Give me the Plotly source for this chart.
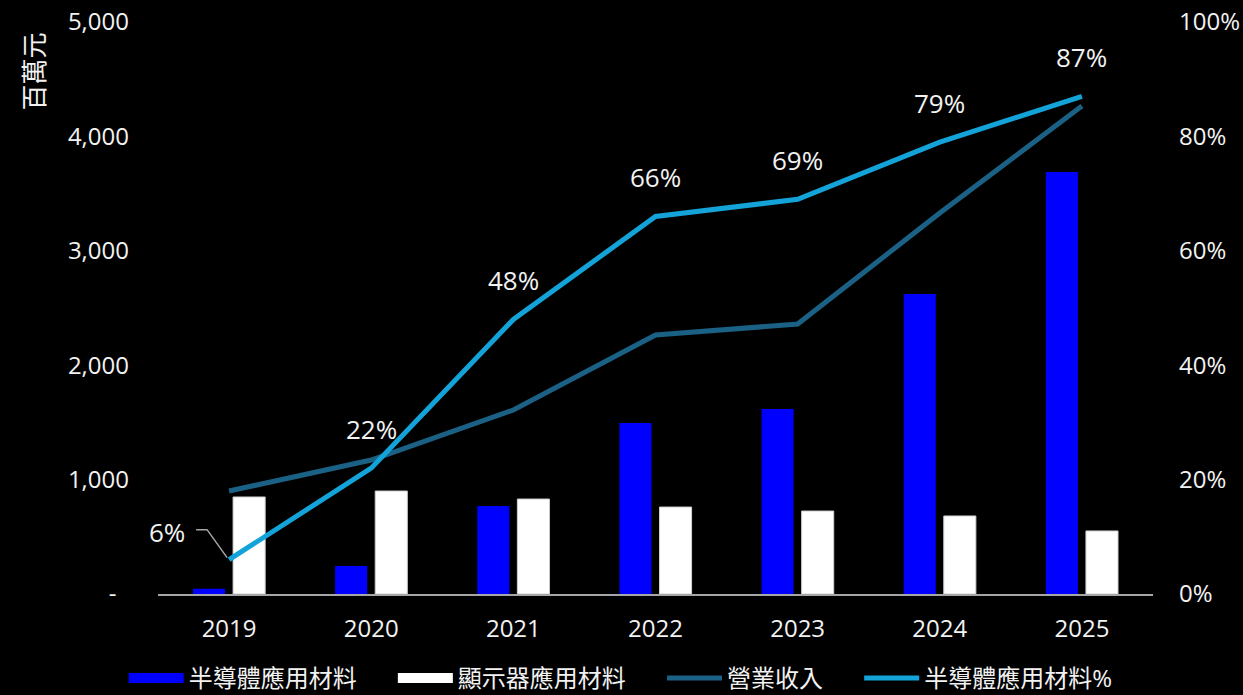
import plotly.graph_objects as go

years = ["2019", "2020", "2021", "2022", "2023", "2024", "2025"]
semi_materials = [45, 245, 770, 1495, 1617, 2622, 3689]
display_materials = [848, 900, 830, 760, 725, 682, 551]
revenue = [900, 1171, 1608, 2264, 2360, 3330, 4265]
semi_pct = [6, 22, 48, 66, 69, 79, 87]
pct_labels = [f"{v}%" for v in semi_pct]

left_ticks = [0, 1000, 2000, 3000, 4000, 5000]
left_ticktext = ["-\u00a0\u00a0", "1,000", "2,000", "3,000", "4,000", "5,000"]
right_ticks = [0, 20, 40, 60, 80, 100]
right_ticktext = ["0%", "20%", "40%", "60%", "80%", "100%"]

FONT = "Open Sans, Noto Sans CJK TC, sans-serif"
TXT = "#f2f2f2"
BLUE = "#0000FF"
WHITE = "#FFFFFF"
DARK = "#1B6185"
LIGHT = "#13A3D8"
PAD = "\u00a0" * 5

fig = go.Figure()
fig.add_trace(go.Bar(x=years, y=semi_materials, name="半導體應用材料",
                     legendgroup="semi", showlegend=False,
                     marker=dict(color=BLUE, line=dict(width=0))))
fig.add_trace(go.Bar(x=years, y=display_materials, name="顯示器應用材料",
                     legendgroup="disp", showlegend=False,
                     marker=dict(color=WHITE, line=dict(color="#d0d0d0", width=1))))
# legend-only proxies so the bar series get wide rectangular swatches
fig.add_trace(go.Scatter(x=[None], y=[None], name="半導體應用材料" + PAD, mode="lines",
                         legendgroup="semi", line=dict(color=BLUE, width=14)))
fig.add_trace(go.Scatter(x=[None], y=[None], name="顯示器應用材料" + PAD, mode="lines",
                         legendgroup="disp", line=dict(color=WHITE, width=14)))
fig.add_trace(go.Scatter(x=years, y=revenue, name="營業收入" + PAD, mode="lines",
                         line=dict(color=DARK, width=5)))
fig.add_trace(go.Scatter(x=years, y=semi_pct, name="半導體應用材料%", mode="lines",
                         yaxis="y2", line=dict(color=LIGHT, width=5)))

annotations = []
for i in range(len(years)):
    a = dict(x=i, y=semi_pct[i], xref="x", yref="y2", text=pct_labels[i],
             showarrow=False, font=dict(size=26, color=TXT, family=FONT))
    if i == 0:
        a.update(xshift=-62, yshift=28)
    else:
        a.update(yshift=39)
    annotations.append(a)
annotations.append(dict(x=-0.125, y=0.913, xref="paper", yref="paper", text="百萬元",
                        showarrow=False, textangle=-90, xanchor="center", yanchor="middle",
                        font=dict(size=26, color=TXT, family=FONT)))

# bent leader line for the first percentage label, anchored on its data point
shapes = [dict(type="path", xref="x", yref="y2", xsizemode="pixel", ysizemode="pixel",
               xanchor=0, yanchor=semi_pct[0], path="M-2,2 L-22,30 L-33,30",
               line=dict(color="#a6a6a6", width=1.5))]

fig.update_layout(
    width=1243, height=695,
    paper_bgcolor="#000000", plot_bgcolor="#000000",
    margin=dict(l=158, r=90, t=22, b=101),
    font=dict(family=FONT, size=24, color=TXT),
    barmode="group", bargap=0.436, bargroupgap=0.2,
    showlegend=True,
    legend=dict(orientation="h", x=0.465, xanchor="center", xref="paper",
                yref="container", y=0.024, yanchor="middle",
                font=dict(size=24, color=TXT, family=FONT), itemwidth=55,
                bgcolor="rgba(0,0,0,0)"),
    xaxis=dict(type="category", showgrid=False, showline=True, linecolor="#a6a6a6",
               linewidth=2, ticks="", tickfont=dict(size=24, color=TXT),
               range=[-0.5, 6.5], automargin=False, ticklabelstandoff=12),
    yaxis=dict(range=[0, 5000], tickvals=left_ticks, ticktext=left_ticktext,
               showgrid=False, zeroline=False, showline=False, ticks="",
               tickfont=dict(size=24, color=TXT), automargin=False, ticklabelstandoff=28),
    yaxis2=dict(range=[0, 100], overlaying="y", side="right", tickvals=right_ticks,
                ticktext=right_ticktext, showgrid=False, zeroline=False, showline=False,
                ticks="", tickfont=dict(size=24, color=TXT), automargin=False,
                ticklabelstandoff=25),
    annotations=annotations,
    shapes=shapes,
)

fig.write_html("out.html", config={"displayModeBar": False},
               post_script="document.body.style.margin='0';")
